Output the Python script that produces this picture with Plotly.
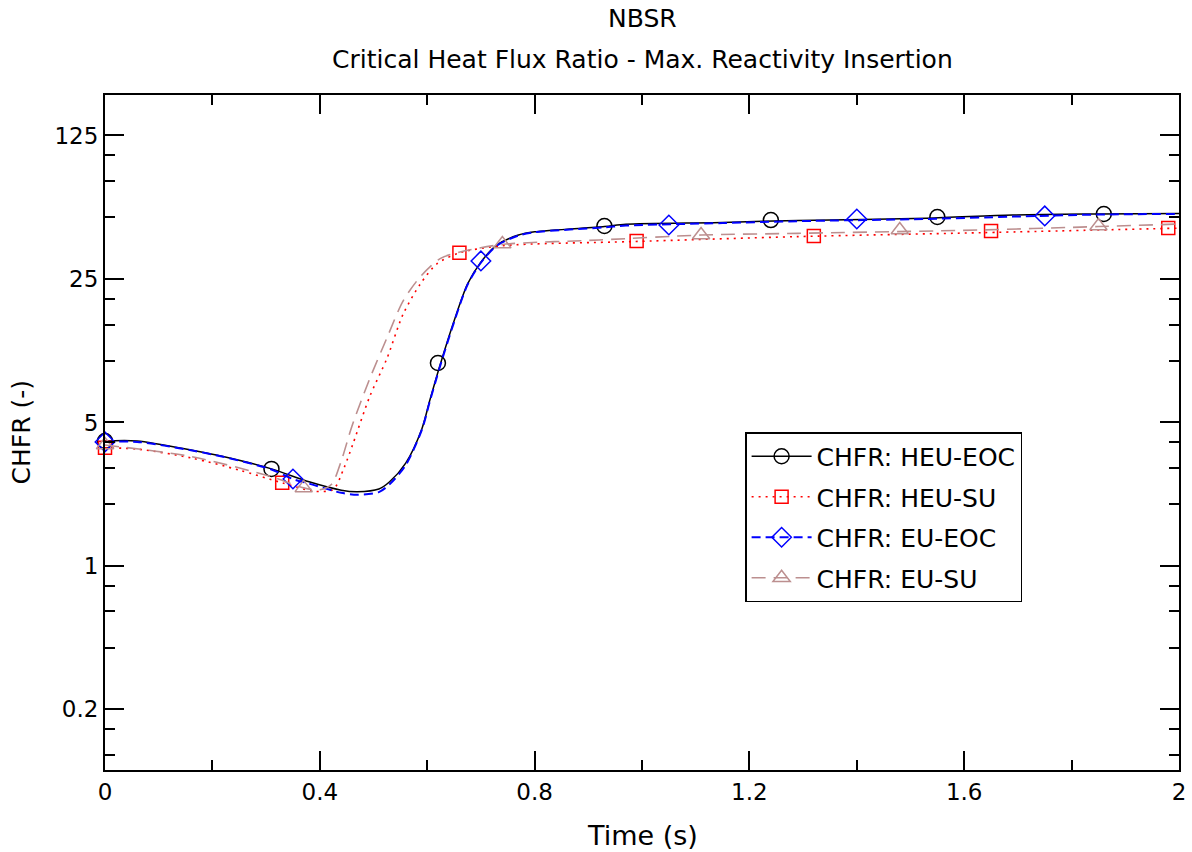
import plotly.graph_objects as go

# ---------------- data ----------------
t_heu_eoc = [0, 0.06, 0.16, 0.22, 0.31, 0.38, 0.44, 0.47, 0.51, 0.53, 0.56, 0.59, 0.605,
             0.624, 0.65, 0.675, 0.70, 0.73, 0.77, 0.80, 0.93, 0.97, 1.15, 1.29, 1.53,
             1.69, 1.85, 2.0]
v_heu_eoc = [4.06, 4.06, 3.67, 3.41, 2.97, 2.57, 2.34, 2.30, 2.37, 2.57, 3.17, 4.65, 6.43,
             9.53, 15.6, 23.6, 30.2, 36.6, 40.9, 42.4, 45.0, 46.2, 47.1, 48.2, 49.4,
             51.2, 51.8, 52.1]

t_heu_su = [0, 0.06, 0.16, 0.25, 0.33, 0.39, 0.425, 0.445, 0.462, 0.493, 0.525, 0.555,
            0.587, 0.618, 0.66, 0.74, 0.98, 1.29, 1.63, 2.0]
v_heu_su = [3.76, 3.71, 3.36, 2.93, 2.54, 2.31, 2.36, 3.00, 3.95, 6.69, 10.25, 16.8,
            23.6, 29.6, 33.5, 36.3, 38.0, 40.2, 42.0, 44.2]

t_eu_eoc = [0, 0.06, 0.16, 0.22, 0.31, 0.35, 0.38, 0.44, 0.47, 0.51, 0.53, 0.56, 0.59,
            0.605, 0.624, 0.65, 0.675, 0.70, 0.73, 0.77, 0.80, 0.93, 0.97, 1.15, 1.29,
            1.53, 1.69, 1.85, 2.0]
v_eu_eoc = [4.02, 4.02, 3.66, 3.40, 2.95, 2.65, 2.52, 2.27, 2.22, 2.29, 2.50, 3.10, 4.60,
            6.35, 9.40, 15.4, 23.4, 30.0, 36.4, 40.7, 42.2, 44.6, 45.5, 46.8, 47.8,
            49.0, 50.3, 51.5, 51.8]

t_eu_su = [0, 0.16, 0.31, 0.37, 0.40, 0.422, 0.44, 0.46, 0.493, 0.525, 0.555, 0.587,
           0.624, 0.661, 0.74, 0.92, 1.11, 1.29, 1.63, 1.85, 2.0]
v_eu_su = [3.88, 3.41, 2.72, 2.40, 2.35, 2.50, 3.25, 4.81, 8.17, 12.9, 19.5, 25.6,
           31.4, 33.8, 36.8, 38.7, 40.9, 41.7, 43.3, 45.0, 46.3]

# marker positions
tm_heu_eoc = [0, 0.31, 0.62, 0.93, 1.24, 1.55, 1.86]
vm_heu_eoc = [4.06, 2.97, 9.74, 45.3, 48.4, 50.1, 51.8]
tm_heu_su = [0, 0.33, 0.66, 0.99, 1.32, 1.65, 1.98]
vm_heu_su = [3.76, 2.54, 33.5, 38.3, 40.5, 42.8, 44.3]
tm_eu_eoc = [0, 0.35, 0.70, 1.05, 1.40, 1.75]
vm_eu_eoc = [4.02, 2.65, 30.6, 45.8, 49.0, 50.7]
tm_eu_su = [0, 0.37, 0.74, 1.11, 1.48, 1.85]
vm_eu_su = [3.88, 2.40, 37.0, 40.9, 43.3, 45.3]

series_names = ["CHFR: HEU-EOC", "CHFR: HEU-SU", "CHFR: EU-EOC", "CHFR: EU-SU"]

y_tickvals = [0.2, 1, 5, 25, 125]
y_ticktext = ["0.2", "1", "5", "25", "125"]
y_minor = [0.12, 0.16, 0.4, 0.6, 0.8, 2, 3, 4, 10, 15, 20, 50, 75, 100]
x_tickvals = [0, 0.4, 0.8, 1.2, 1.6, 2]
x_ticktext = ["0", "0.4", "0.8", "1.2", "1.6", "2"]
x_minor = [0.2, 0.6, 1.0, 1.4, 1.8]

# ---------------- styling ----------------
FONT = "DejaVu Sans"
styles = [
    dict(color="#000000", width=1.5, dash="solid", symbol="circle-open", size=15),
    dict(color="#ff0000", width=1.6, dash="2px,5px", symbol="square-open", size=13),
    dict(color="#0000ff", width=2.0, dash="9px,5px", symbol="diamond-open", size=15),
    dict(color="#bc8f8f", width=1.6, dash="14px,8px", symbol="triangle-up-open", size=15),
]

curves = [(t_heu_eoc, v_heu_eoc), (t_heu_su, v_heu_su), (t_eu_eoc, v_eu_eoc), (t_eu_su, v_eu_su)]
marks = [(tm_heu_eoc, vm_heu_eoc), (tm_heu_su, vm_heu_su), (tm_eu_eoc, vm_eu_eoc), (tm_eu_su, vm_eu_su)]

fig = go.Figure()
for i, name in enumerate(series_names):
    st = styles[i]
    tc, vc = curves[i]
    tm, vm = marks[i]
    mk = dict(symbol=st["symbol"], size=st["size"], color=st["color"],
              line=dict(width=1.5, color=st["color"]))
    fig.add_trace(go.Scatter(
        x=tc, y=vc, mode="lines", line=dict(color=st["color"], width=st["width"], dash=st["dash"],
                                           shape="spline", smoothing=0.8),
        showlegend=False, hoverinfo="skip"))
    fig.add_trace(go.Scatter(
        x=tm, y=vm, mode="markers", cliponaxis=False, marker=mk,
        showlegend=False, hoverinfo="skip"))
    fig.add_trace(go.Scatter(
        x=[None], y=[None], mode="lines+markers", name=name, legendgroup=f"g{i}",
        line=dict(color=st["color"], width=st["width"], dash=st["dash"]), marker=mk))

axis_common = dict(
    showline=True, linecolor="black", linewidth=2, mirror="allticks",
    ticks="inside", ticklen=19, tickwidth=1.5, tickcolor="black",
    showgrid=False, zeroline=False, automargin=False,
    tickfont=dict(family=FONT, size=23, color="black"),
)

fig.update_layout(
    width=1192, height=852,
    paper_bgcolor="white", plot_bgcolor="white",
    margin=dict(l=105, r=13, t=95, b=82),
    font=dict(family=FONT, color="black"),
    xaxis=dict(range=[0, 2], tickmode="array", tickvals=x_tickvals, ticktext=x_ticktext,
               minor=dict(tickmode="array", tickvals=x_minor, ticks="inside", ticklen=10,
                          tickwidth=1.5, tickcolor="black", showgrid=False),
               **axis_common),
    yaxis=dict(type="log", range=[-0.994, 2.294], tickmode="array", tickvals=y_tickvals,
               ticktext=y_ticktext,
               minor=dict(tickmode="array", tickvals=y_minor, ticks="inside", ticklen=10,
                          tickwidth=1.5, tickcolor="black", showgrid=False),
               **axis_common),
    legend=dict(x=0.596, y=0.5007, xanchor="left", yanchor="top",
                bordercolor="black", borderwidth=1.5, bgcolor="white",
                font=dict(family=FONT, size=25, color="black"),
                itemwidth=60, tracegroupgap=5),
    annotations=[
        dict(text="NBSR", x=0.5, y=1.1126, xref="paper", yref="paper", showarrow=False,
             xanchor="center", yanchor="middle", font=dict(family=FONT, size=25)),
        dict(text="Critical Heat Flux Ratio - Max. Reactivity Insertion", x=0.5, y=1.0533,
             xref="paper", yref="paper", showarrow=False, xanchor="center", yanchor="middle",
             font=dict(family=FONT, size=25)),
        dict(text="Time (s)", x=0.5, y=-0.0963, xref="paper", yref="paper", showarrow=False,
             xanchor="center", yanchor="middle", font=dict(family=FONT, size=27)),
        dict(text="CHFR (-)", x=-0.0773, y=0.5, xref="paper", yref="paper", showarrow=False,
             xanchor="center", yanchor="middle", textangle=-90, font=dict(family=FONT, size=25)),
    ],
)

fig.write_html("out.html", config={"displayModeBar": False},
               post_script="document.body.style.margin='0';document.body.style.overflow='hidden';")
